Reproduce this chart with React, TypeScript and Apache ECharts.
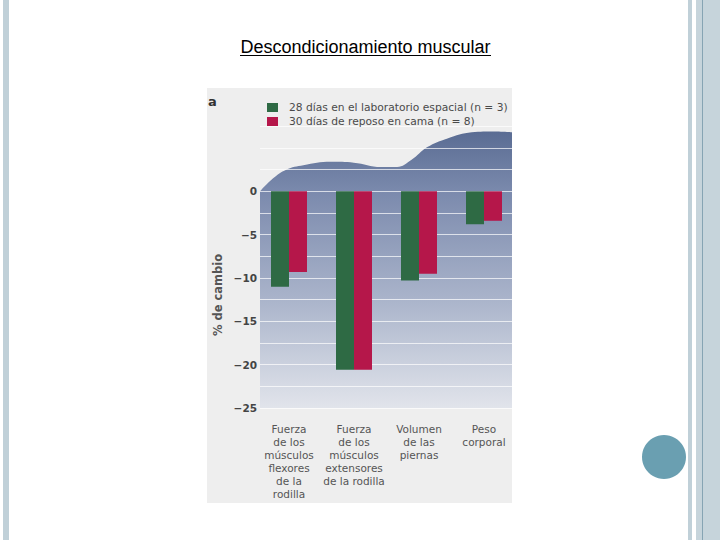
import { useEffect, useRef } from 'react';
import * as echarts from 'echarts';

const FONT = '"Liberation Sans", Arial, sans-serif';
const SCAN_FONT = '"DejaVu Sans", Verdana, sans-serif';

const categories = [
  'Fuerza\nde los\nmúsculos\nflexores\nde la\nrodilla',
  'Fuerza\nde los\nmúsculos\nextensores\nde la rodilla',
  'Volumen\nde las\npiernas',
  'Peso\ncorporal',
];
const spaceLab = [-11.0, -20.6, -10.3, -3.8];
const bedRest = [-9.3, -20.6, -9.5, -3.4];
const yTicks = [0, -5, -10, -15, -20, -25];
const seriesNames = ['28 días en el laboratorio espacial (n = 3)', '30 días de reposo en cama (n = 8)'];

// decorative wave behind the bars: [x position 0..1, % value]
const wave: [number, number][] = [
  [0, 0], [0.052, 1.5], [0.104, 2.5], [0.172, 3.0], [0.28, 3.4], [0.372, 3.3],
  [0.48, 2.8], [0.544, 2.8], [0.6, 3.6], [0.664, 5.1], [0.744, 6.1], [0.84, 6.8],
  [0.932, 6.9], [1, 6.8],
];

const GREEN = '#2e6a44';
const RED = '#b5174a';
const TEXT = '#4a4a4a';
const STRIPE = '#c0d0d8';

export default function App() {
  const ref = useRef<HTMLDivElement>(null);

  useEffect(() => {
    if (!ref.current) return;
    const chart = echarts.init(ref.current, undefined, { renderer: 'svg' });

    const gridTop = 126.3;
    const gridH = 281.7;

    chart.setOption({
      animation: false,
      backgroundColor: '#ffffff',
      textStyle: { fontFamily: SCAN_FONT },
      legend: {
        orient: 'vertical',
        left: 262,
        top: 97,
        itemWidth: 11,
        itemHeight: 9,
        itemGap: 3,
        icon: 'rect',
        data: seriesNames,
        textStyle: { fontSize: 10.7, color: TEXT, fontFamily: SCAN_FONT, padding: [0, 0, 0, 6] },
      },
      grid: [
        { left: 256.5, width: 260, top: gridTop, height: gridH },
        { left: 260, width: 252, top: gridTop, height: gridH },
      ],
      xAxis: [
        {
          type: 'category',
          gridIndex: 0,
          data: categories,
          axisLine: { show: false },
          axisTick: { show: false },
          axisLabel: { color: '#555', fontSize: 10.5, lineHeight: 13, margin: 14, interval: 0, fontFamily: SCAN_FONT },
        },
        { type: 'value', gridIndex: 1, min: 0, max: 1, show: false },
      ],
      yAxis: [
        { type: 'value', gridIndex: 0, min: -25, max: 7.5, show: false },
        {
          type: 'value',
          gridIndex: 1,
          min: -25,
          max: 7.5,
          interval: 2.5,
          z: 2,
          axisLine: { show: false },
          axisTick: { show: false },
          axisLabel: {
            margin: 3,
            color: '#444',
            fontSize: 10.5,
            fontWeight: 'bold',
            fontFamily: SCAN_FONT,
            formatter: (v: number) => (yTicks.includes(v) ? (v < 0 ? '\u2212' + Math.abs(v) : String(v)) : ''),
          },
          splitLine: { lineStyle: { color: 'rgba(255,255,255,0.7)', width: 1 } },
        },
      ],
      series: [
        {
          type: 'line',
          xAxisIndex: 1,
          yAxisIndex: 1,
          data: wave,
          smooth: 0.4,
          symbol: 'none',
          z: 1,
          silent: true,
          lineStyle: { width: 0 },
          areaStyle: {
            origin: 'start',
            opacity: 1,
            color: new echarts.graphic.LinearGradient(0, 0, 0, 1, [
              { offset: 0, color: '#5a6c93' },
              { offset: 0.22, color: '#7b8aad' },
              { offset: 0.6, color: '#a9b3ca' },
              { offset: 1, color: '#e1e4eb' },
            ]),
          },
        },
        {
          name: seriesNames[0],
          type: 'bar',
          xAxisIndex: 0,
          yAxisIndex: 0,
          data: spaceLab,
          barWidth: 18,
          barGap: '0%',
          z: 3,
          itemStyle: { color: GREEN },
        },
        {
          name: seriesNames[1],
          type: 'bar',
          xAxisIndex: 0,
          yAxisIndex: 0,
          data: bedRest,
          barWidth: 18,
          barGap: '0%',
          z: 3,
          itemStyle: { color: RED },
        },
      ],
      graphic: [
        // slide decoration
        { type: 'rect', z: -10, shape: { x: 3, y: 0, width: 6, height: 540 }, style: { fill: STRIPE } },
        { type: 'rect', z: -10, shape: { x: 688, y: 0, width: 4, height: 540 }, style: { fill: STRIPE } },
        { type: 'rect', z: -10, shape: { x: 696, y: 0, width: 24, height: 540 }, style: { fill: '#c6d4db' } },
        { type: 'rect', z: -10, shape: { x: 702, y: 0, width: 1, height: 540 }, style: { fill: '#86a4b3' } },
        { type: 'circle', z: -10, shape: { cx: 664, cy: 457, r: 22 }, style: { fill: '#6a9fb1' } },
        // picture background
        { type: 'rect', z: -9, shape: { x: 207, y: 88, width: 305, height: 415 }, style: { fill: '#eeeeee' } },
        {
          type: 'text',
          z: 5,
          style: { x: 365.5, y: 47, text: 'Descondicionamiento muscular', fill: '#000', font: `18px ${FONT}`, align: 'center', verticalAlign: 'middle' },
        },
        { type: 'line', z: 5, shape: { x1: 240, y1: 55.5, x2: 491, y2: 55.5 }, style: { stroke: '#000', lineWidth: 1 } },
        {
          type: 'text',
          z: 5,
          style: { x: 208, y: 101, text: 'a', fill: '#333', font: `bold 13px ${SCAN_FONT}`, verticalAlign: 'middle' },
        },
        {
          type: 'text',
          z: 5,
          x: 218,
          y: 295,
          rotation: Math.PI / 2,
          style: { x: 0, y: 0, text: '% de cambio', fill: '#555', font: `bold 11.5px ${SCAN_FONT}`, align: 'center', verticalAlign: 'middle' },
        },
      ],
    });

    return () => chart.dispose();
  }, []);

  return <div ref={ref} style={{ position: 'absolute', left: 0, top: 0, width: 720, height: 540 }} />;
}
